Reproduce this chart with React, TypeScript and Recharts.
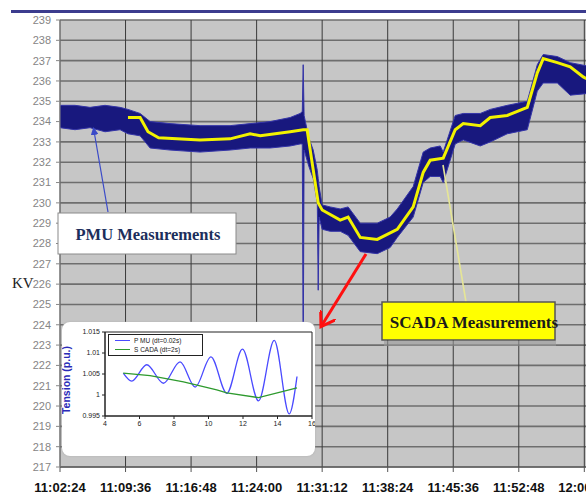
import React from 'react';
import {
  ComposedChart,
  Area,
  Line,
  XAxis,
  YAxis,
  CartesianGrid,
  LineChart,
  Legend,
  ReferenceArea,
} from 'recharts';

// ---- main chart data (seconds after 11:02:24, kV) ----
const pmuTime = [0, 99, 198, 297, 396, 448, 528, 594, 725, 923, 1121, 1253, 1385, 1517, 1583, 1597, 1603, 1609, 1640, 1669, 1696, 1702, 1708, 1728, 1781, 1847, 1899, 1979, 2091, 2176, 2223, 2328, 2394, 2440, 2506, 2526, 2605, 2658, 2770, 2836, 2948, 3080, 3146, 3185, 3278, 3363, 3500];
const pmuLow = [233.7, 233.6, 233.7, 233.5, 233.6, 233.4, 233.3, 232.7, 232.6, 232.5, 232.6, 232.7, 232.7, 232.8, 232.9, 232.9, 222.0, 232.6, 231.8, 231.2, 230.0, 225.7, 229.3, 228.7, 228.6, 228.6, 228.4, 227.6, 227.5, 227.8, 228.3, 229.3, 231.0, 231.3, 231.3, 231.0, 232.9, 233.1, 232.8, 233.0, 233.4, 233.6, 235.5, 235.9, 235.9, 235.3, 235.4];
const pmuHigh = [234.8, 234.8, 234.7, 234.8, 234.7, 234.6, 234.4, 234.0, 233.9, 233.8, 233.8, 233.9, 234.0, 234.2, 234.4, 234.5, 236.8, 234.3, 233.2, 232.6, 231.6, 231.2, 230.8, 229.9, 229.8, 229.7, 229.8, 229.0, 229.0, 229.3, 229.7, 230.8, 232.5, 232.7, 232.8, 232.5, 234.3, 234.4, 234.4, 234.6, 234.8, 235.0, 236.8, 237.3, 237.2, 236.9, 236.7];

const scadaTime = [448, 528, 580, 650, 923, 1121, 1253, 1320, 1517, 1603, 1629, 1702, 1728, 1847, 1899, 1979, 2091, 2223, 2328, 2394, 2440, 2526, 2605, 2658, 2770, 2836, 2948, 3080, 3146, 3185, 3278, 3363, 3449, 3500];
const scadaKv = [234.2, 234.2, 233.5, 233.2, 233.1, 233.15, 233.4, 233.3, 233.5, 233.6, 233.6, 230.0, 229.65, 229.15, 229.3, 228.3, 228.2, 228.7, 229.8, 231.5, 232.1, 232.2, 233.6, 233.9, 233.8, 234.2, 234.3, 234.7, 236.4, 237.1, 236.9, 236.7, 236.2, 236.0];

const kvTicks = [217, 218, 219, 220, 221, 222, 223, 224, 225, 226, 227, 228, 229, 230, 231, 232, 233, 234, 235, 236, 237, 238, 239];
const timeTicks = [0, 432, 864, 1296, 1728, 2160, 2592, 3024, 3456];
const timeLabels = ['11:02:24', '11:09:36', '11:16:48', '11:24:00', '11:31:12', '11:38:24', '11:45:36', '11:52:48', '12:00:00'];

// ---- inset data (s, p.u.) ----
const insetPmuT = [5.06, 5.55, 6.42, 7.39, 8.35, 9.23, 10.14, 11.06, 11.97, 12.9, 13.81, 14.68, 15.13];
const insetPmuV = [1.0052, 1.0033, 1.0072, 1.0028, 1.0079, 1.0019, 1.0091, 1.0004, 1.0109, 0.9986, 1.013, 0.9955, 1.0044];
const insetScadaT = [5.06, 6.61, 8.55, 10.48, 11.06, 12.9, 15.13];
const insetScadaV = [1.0052, 1.0046, 1.0031, 1.0012, 1.0005, 0.99937, 1.0017];
const insetXTicks = [4, 6, 8, 10, 12, 14, 16];
const insetYTicks = [0.995, 1, 1.005, 1.01, 1.015];

const pmuData = pmuTime.map((t, i) => ({ t, range: [pmuLow[i], pmuHigh[i]] }));
const scadaData = scadaTime.map((t, i) => ({ t, kv: scadaKv[i] }));
const insetPmuData = insetPmuT.map((t, i) => ({ t, v: insetPmuV[i] }));
const insetScadaData = insetScadaT.map((t, i) => ({ t, v: insetScadaV[i] }));

const fmtTime = (v: number) => {
  const i = timeTicks.indexOf(v);
  return i >= 0 ? timeLabels[i] : '';
};

const KvLabel = () => (
  <text x={12} y={288} fontFamily="Liberation Serif" fontSize={15} fill="#222">
    KV
  </text>
);

const InsetYLabel = () => (
  <text
    transform="translate(8,58) rotate(-90)"
    textAnchor="middle"
    fontFamily="Liberation Sans"
    fontWeight="bold"
    fontSize={10.5}
    fill="#2a2ab8"
  >
    Tension (p.u.)
  </text>
);

const InsetXLabel = () => (
  <text x={146} y={143} textAnchor="middle" fontFamily="Liberation Sans" fontSize={13} fill="#2a2ab8">
    Tiempo (s)
  </text>
);

const InsetLegend = () => (
  <div
    style={{
      border: '1px solid #222',
      background: '#fff',
      width: 93,
      padding: '1px 0',
      fontFamily: 'Liberation Sans',
      fontSize: 6.5,
      lineHeight: '9px',
      color: '#222',
    }}
  >
    <div style={{ display: 'flex', alignItems: 'center' }}>
      <span style={{ display: 'inline-block', width: 15, height: 1, background: '#4a4aff', margin: '0 4px 0 6px' }} />
      P MU (dt=0.02s)
    </div>
    <div style={{ display: 'flex', alignItems: 'center' }}>
      <span style={{ display: 'inline-block', width: 15, height: 1, background: '#2e9a2e', margin: '0 4px 0 6px' }} />
      S CADA (dt=2s)
    </div>
  </div>
);

export default function App() {
  return (
    <div
      style={{
        position: 'absolute',
        left: 0,
        top: 0,
        width: 586,
        height: 500,
        overflow: 'hidden',
        background: '#fff',
      }}
    >
      <div style={{ position: 'absolute', left: 11, top: 10, width: 575, height: 3, background: '#3c3c8e' }} />
      <div style={{ position: 'absolute', left: 0, top: 0 }}>
        <ComposedChart width={620} height={500} margin={{ top: 20, right: 29, bottom: 0, left: 0 }}>
          <CartesianGrid
            horizontal={true}
            vertical={false}
            fill="#c6c6c6"
            stroke="#6e6e6e"
            strokeWidth={1.6}
          />
          <CartesianGrid horizontal={false} vertical={true} stroke="#3a3a3a" strokeWidth={1} />
          <XAxis
            type="number"
            dataKey="t"
            domain={[0, 3500]}
            ticks={timeTicks}
            interval={0}
            tickFormatter={fmtTime}
            height={33}
            tickSize={5}
            tickMargin={11}
            stroke="#555"
            tick={{ fontFamily: 'Liberation Sans Narrow, Liberation Sans', fontWeight: 'bold', fontSize: 13, fill: '#111' }}
            allowDataOverflow
          />
          <YAxis
            type="number"
            domain={[217, 239]}
            ticks={kvTicks}
            interval={0}
            width={60}
            tickSize={4}
            tickMargin={5}
            stroke="#888"
            tick={{ fontFamily: 'Liberation Sans Narrow, Liberation Sans', fontSize: 11, fill: '#858585' }}
            label={<KvLabel />}
          />
          <Area
            data={pmuData}
            dataKey="range"
            type="linear"
            stroke="#3434a8"
            strokeWidth={1}
            fill="#18187e"
            fillOpacity={1}
            isAnimationActive={false}
            dot={false}
            activeDot={false}
          />
          <Line
            data={scadaData}
            dataKey="kv"
            type="linear"
            stroke="#f2f200"
            strokeWidth={3}
            dot={false}
            activeDot={false}
            isAnimationActive={false}
          />
        </ComposedChart>
      </div>

      <svg
        width={586}
        height={500}
        style={{ position: 'absolute', left: 0, top: 0, pointerEvents: 'none' }}
      >
        <defs>
          <marker id="blueHead" markerWidth="8" markerHeight="8" refX="4" refY="4" orient="auto" markerUnits="userSpaceOnUse">
            <path d="M0,0 L8,4 L0,8 z" fill="#3a4ac8" />
          </marker>
          <marker id="redHead" markerWidth="18" markerHeight="18" refX="12" refY="9" orient="auto" markerUnits="userSpaceOnUse">
            <path d="M0,0 L14,9 L0,18" fill="none" stroke="#ff1010" strokeWidth={3} />
          </marker>
        </defs>
        {/* PMU annotation */}
        <line x1={108} y1={212} x2={94} y2={131} stroke="#3a4ac8" strokeWidth={1.2} markerEnd="url(#blueHead)" />
        <rect x={58} y={213} width={178} height={41} fill="#fff" stroke="#8a8a8a" strokeWidth={1} />
        <text
          x={148}
          y={240}
          textAnchor="middle"
          fontFamily="Liberation Serif"
          fontWeight="bold"
          fontSize={16.5}
          fill="#1c2e5c"
        >
          PMU Measurements
        </text>
        {/* SCADA annotation */}
        <line x1={466} y1={302} x2={443} y2={165} stroke="#e6e696" strokeWidth={1.6} />
        <rect x={384} y={341} width={172} height={5} fill="#9a9a9a" opacity={0.6} />
        <rect x={382} y={302} width={173} height={38} fill="#ffff00" stroke="#555" strokeWidth={1.5} />
        <text
          x={474}
          y={328}
          textAnchor="middle"
          fontFamily="Liberation Serif"
          fontWeight="bold"
          fontSize={17}
          fill="#1a1a1a"
        >
          SCADA Measurements
        </text>
        {/* red arrow */}
        <line x1={366} y1={254} x2={322} y2={325} stroke="#ff1010" strokeWidth={3} markerEnd="url(#redHead)" />
      </svg>

      <div
        style={{
          position: 'absolute',
          left: 62,
          top: 322,
          width: 253,
          height: 134,
          background: '#fff',
          borderRadius: 8,
          overflow: 'hidden',
          boxShadow: '0 0 2px #aaa',
        }}
      >
        <LineChart width={253} height={150} margin={{ top: 10, right: 3, bottom: 0, left: 0 }}>
          <XAxis
            type="number"
            dataKey="t"
            domain={[4, 16]}
            ticks={insetXTicks}
            interval={0}
            height={34}
            tickSize={3}
            tickMargin={2}
            stroke="#222"
            tick={{ fontFamily: 'Liberation Sans', fontSize: 7, fill: '#222' }}
            label={<InsetXLabel />}
            allowDataOverflow
          />
          <YAxis
            type="number"
            domain={[0.995, 1.015]}
            ticks={insetYTicks}
            interval={0}
            width={43}
            tickSize={3}
            tickMargin={2}
            stroke="#222"
            tick={{ fontFamily: 'Liberation Sans', fontSize: 7, fill: '#222' }}
            tickFormatter={(v: number) => String(v)}
            label={<InsetYLabel />}
            allowDataOverflow
          />
          <ReferenceArea x1={4} x2={16} y1={0.995} y2={1.015} fill="none" stroke="#222" strokeWidth={1} ifOverflow="visible" />
          <Line
            data={insetPmuData}
            dataKey="v"
            name="P MU (dt=0.02s)"
            type="monotone"
            stroke="#4a4aff"
            strokeWidth={1.3}
            dot={false}
            activeDot={false}
            isAnimationActive={false}
          />
          <Line
            data={insetScadaData}
            dataKey="v"
            name="S CADA (dt=2s)"
            type="linear"
            stroke="#2e9a2e"
            strokeWidth={1.3}
            dot={false}
            activeDot={false}
            isAnimationActive={false}
          />
          <Legend content={<InsetLegend />} wrapperStyle={{ position: 'absolute', left: 46, top: 12, width: 95 }} />
        </LineChart>
      </div>
    </div>
  );
}
